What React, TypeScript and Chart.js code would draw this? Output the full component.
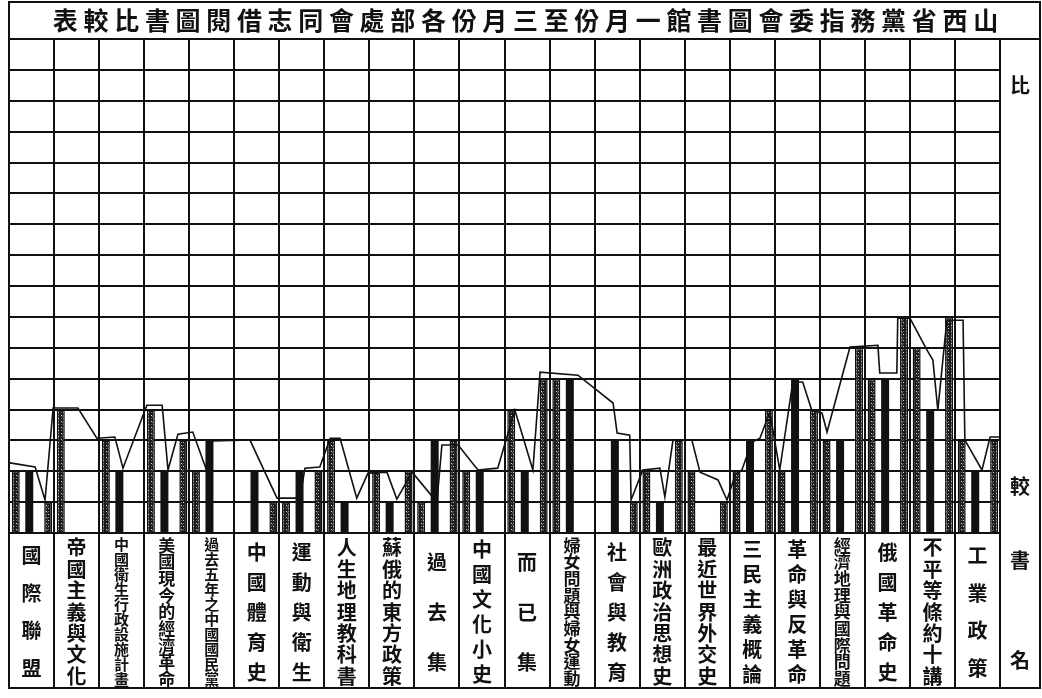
import React, { useEffect, useRef } from 'react';
import { Chart, registerables } from 'chart.js';

Chart.register(...registerables);

// ---------- data ----------
const TITLE = '表較比書圖閱借志同會處部各份月三至份月一館書圖會委指務黨省西山';

const bookNames = [
  '國際聯盟', '帝國主義與文化', '中國衛生行政設施計畫', '美國現今的經濟革命',
  '過去五年之中國國民黨', '中國體育史', '運動與衛生', '人生地理教科書',
  '蘇俄的東方政策', '過去集', '中國文化小史', '而已集',
  '婦女問題與婦女運動', '社會與教育', '歐洲政治思想史', '最近世界外交史',
  '三民主義概論', '革命與反革命', '經濟地理與國際問題', '俄國革命史',
  '不平等條約十講', '工業政策',
];

const monthNames = ['一月份', '二月份', '三月份'];
const janValues = [2, 4, 3, 4, 2, 0, 1, 3, 2, 1, 2, 4, 5, 0, 2, 2, 2, 2, 3, 5, 6, 3];
const febValues = [2, 0, 2, 2, 3, 2, 2, 1, 1, 3, 2, 2, 5, 3, 1, 0, 3, 5, 3, 5, 4, 2];
const marValues = [1, 0, 0, 3, 0, 1, 2, 0, 2, 3, 0, 5, 0, 1, 3, 1, 4, 4, 6, 7, 7, 3];

// hand-drawn trend line: position along the book axis (in book units) and height
const trendPos = [
  0.02, 0.58, 0.80, 0.98, 1.53, 1.95, 2.35, 2.53, 3.06, 3.40, 3.53, 3.75, 4.08, 4.37, 4.51,
  5.35, 5.95, 6.46, 6.57, 6.90, 7.13, 7.35, 7.72, 7.97, 8.39, 8.61, 8.95, 9.50, 9.61, 9.97,
  10.41, 10.85, 11.23, 11.63, 11.79, 12.63, 13.41, 13.50, 13.78, 13.81, 14.07, 14.45, 14.56,
  14.74, 15.16, 15.34, 15.74, 15.94, 16.12, 16.27, 16.49, 16.67, 16.89, 17.11, 17.40, 17.62,
  17.82, 18.05, 18.16, 18.67, 19.29, 19.33, 19.71, 19.73, 20.00, 20.38, 20.51, 20.62, 20.82,
  21.18, 21.22, 21.60, 21.78, 22.00,
];
const trendVal = [
  2.27, 2.14, 1.07, 4.05, 4.05, 3.07, 3.11, 2.10, 4.14, 4.14, 2.04, 3.20, 3.27, 2.10, 2.98,
  3.01, 1.13, 1.13, 2.10, 2.14, 3.07, 3.07, 1.13, 1.94, 1.97, 1.10, 1.97, 1.00, 2.85, 2.85,
  2.04, 2.10, 3.98, 2.04, 5.21, 5.11, 4.21, 3.24, 3.17, 1.07, 2.04, 2.10, 1.17,
  3.01, 3.01, 1.97, 1.72, 1.07, 1.88, 2.04, 2.94, 3.07, 3.92, 2.04, 4.89, 4.89,
  3.98, 3.88, 3.27, 6.02, 6.08, 5.18, 5.18, 6.96, 6.96, 5.92, 5.60, 3.98, 6.89,
  6.89, 3.01, 2.04, 3.11, 3.11,
];

const sideLabels = ['', '比', '', '', '', '', '', '', '', '', '', '', '', '', '較', ''];
const cornerLabel = ['書', '名'];
const Y_MAX = 16;

// ---------- styling ----------
const FONT = '"Noto Sans CJK TC", "Noto Sans CJK SC", sans-serif';
const INK = '#111';
const SLOT = [0.15, 0.45, 0.87];
const LABEL_SPAN = 150;

function makePattern(): CanvasPattern | string {
  const c = document.createElement('canvas');
  c.width = 5;
  c.height = 6;
  const g = c.getContext('2d');
  if (!g) return '#333';
  g.fillStyle = '#1c1c1c';
  g.fillRect(0, 0, 5, 6);
  g.fillStyle = '#d8d8d8';
  g.fillRect(1, 1, 1, 1);
  g.fillRect(3, 4, 1, 1);
  g.fillStyle = '#6a6a6a';
  g.fillRect(3, 1, 1, 1);
  g.fillRect(1, 4, 1, 1);
  g.fillRect(2, 2, 1, 1);
  return g.createPattern(c, 'repeat') || '#333';
}

const framePlugin = {
  id: 'frame',
  afterDraw(chart: any) {
    const { ctx, chartArea } = chart;
    const xl = chart.scales.xl;
    const left = chartArea.left;
    const right = chart.width - 2;
    const top = 2;
    const bottom = xl.bottom;
    ctx.save();
    ctx.strokeStyle = INK;
    ctx.lineWidth = 2;
    ctx.strokeRect(left, top, right - left, bottom - top);
    ctx.beginPath();
    ctx.moveTo(chartArea.right, chartArea.top);
    ctx.lineTo(right, chartArea.top);
    ctx.moveTo(chartArea.right, chartArea.top);
    ctx.lineTo(chartArea.right, bottom);
    ctx.stroke();
    ctx.fillStyle = INK;
    ctx.font = `bold 20px ${FONT}`;
    ctx.textAlign = 'center';
    ctx.textBaseline = 'middle';
    const cx = (chartArea.right + right) / 2;
    ctx.fillText(cornerLabel[0], cx, xl.top + 27);
    ctx.fillText(cornerLabel[1], cx, bottom - 28);
    ctx.restore();
  },
};

export default function App() {
  const ref = useRef<HTMLCanvasElement>(null);

  useEffect(() => {
    if (!ref.current) return;
    const pattern = makePattern();
    const months = [janValues, febValues, marValues];

    const barSets = months.map((vals, k) => ({
      type: 'bar' as const,
      label: monthNames[k],
      data: vals.map((v, i) => ({ x: i + SLOT[k], y: v === 0 ? null : v })),
      backgroundColor: k === 1 ? INK : pattern,
      borderColor: INK,
      borderWidth: k === 1 ? 0 : 1.5,
      maxBarThickness: 8,
      grouped: false,
      order: 2,
      xAxisID: 'x',
      yAxisID: 'y',
    }));

    const lineSet = {
      type: 'line' as const,
      label: '趨勢',
      data: trendPos.map((x, i) => ({ x, y: trendVal[i] })),
      borderColor: INK,
      borderWidth: 1.6,
      pointRadius: 0,
      tension: 0,
      fill: false,
      order: 0,
      xAxisID: 'x',
      yAxisID: 'y',
    };

    const chart = new Chart(ref.current, {
      type: 'bar',
      data: { datasets: [...barSets, lineSet] as any },
      plugins: [framePlugin],
      options: {
        responsive: false,
        animation: false,
        devicePixelRatio: 1,
        layout: { padding: { top: 2, left: 9, right: 0, bottom: 10 } },
        plugins: {
          legend: { display: false },
          tooltip: { enabled: false },
          title: {
            display: true,
            text: Array.from(TITLE).join(' '),
            color: INK,
            font: { family: FONT, size: 25, weight: 'bold' },
            padding: { top: 3, bottom: 4 },
          },
        },
        scales: {
          x: {
            type: 'linear',
            position: 'bottom',
            min: 0,
            max: bookNames.length,
            offset: false,
            ticks: { display: false, stepSize: 1 },
            grid: { color: INK, lineWidth: 2, drawTicks: false, offset: false },
            border: { display: true, color: INK, width: 2 },
          },
          xl: {
            type: 'category',
            position: 'bottom',
            labels: bookNames.map((s) => Array.from(s)),
            offset: true,
            grid: {
              offset: true,
              drawOnChartArea: false,
              color: INK,
              tickColor: INK,
              lineWidth: 2,
              drawTicks: true,
              tickLength: 155,
            },
            border: { display: false },
            ticks: {
              autoSkip: false,
              maxRotation: 0,
              minRotation: 0,
              padding: -151,
              color: INK,
              font: (ctx: any) => {
                const name = bookNames[ctx.index] || ' ';
                const n = Array.from(name).length;
                const step = LABEL_SPAN / n;
                const size = Math.min(20, Math.floor(step * 1.02));
                return { family: FONT, size, weight: 'bold', lineHeight: step / size };
              },
            },
            afterFit: (scale: any) => {
              scale.height = 155;
            },
          },
          y: {
            type: 'linear',
            position: 'left',
            min: 0,
            max: Y_MAX,
            ticks: { display: false, stepSize: 1 },
            grid: { color: INK, lineWidth: 2, drawTicks: false },
            border: { display: true, color: INK, width: 2 },
          },
          y2: {
            type: 'category',
            position: 'right',
            labels: sideLabels,
            offset: true,
            grid: { display: false, drawTicks: false },
            border: { display: false },
            ticks: {
              autoSkip: false,
              padding: 10,
              color: INK,
              font: { family: FONT, size: 20, weight: 'bold' },
            },
            afterFit: (scale: any) => {
              scale.width = 42;
            },
          },
        },
      } as any,
    });

    return () => chart.destroy();
  }, []);

  return (
    <div style={{ position: 'fixed', left: 0, top: 0, width: 1042, height: 698, background: '#fff' }}>
      <canvas ref={ref} width={1042} height={698} style={{ display: 'block' }} />
    </div>
  );
}
